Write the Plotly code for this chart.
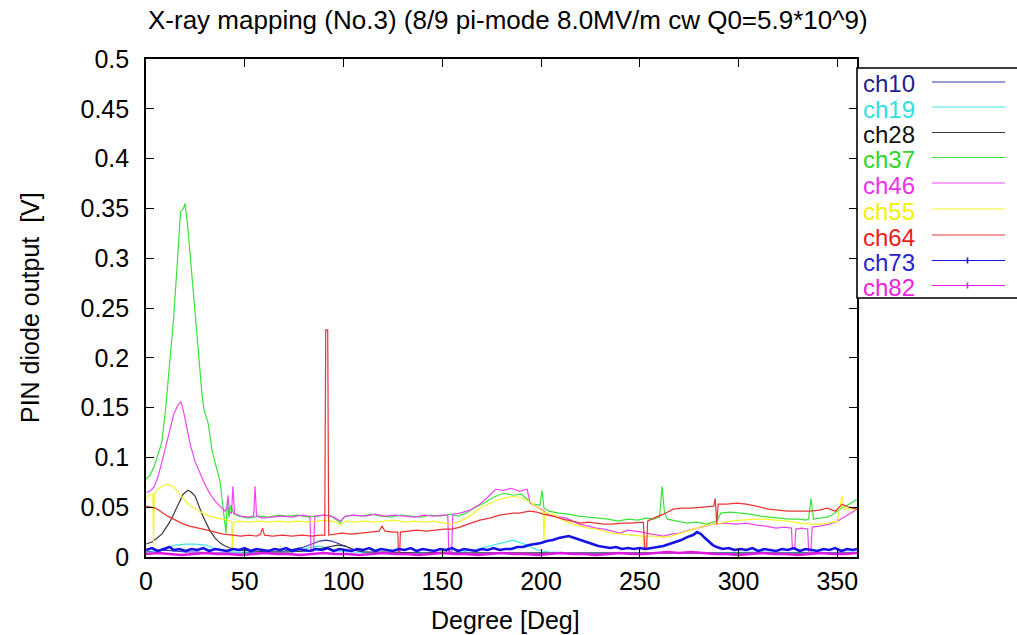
import plotly.graph_objects as go

# ---------------- data (degree, volts) ----------------
ch10 = [(0,0.005),(5,0.006),(10,0.007),(14,0.006),(20,0.005),(26,0.005),(32,0.004),(40,0.004),(48,0.004),(56,0.005),(64,0.005),(70,0.006),(76,0.008),(80,0.010),(84,0.013),(88,0.016),(91,0.017),(94,0.016),(98,0.013),(102,0.010),(106,0.007),(110,0.005),(118,0.004),(130,0.004),(145,0.004),(160,0.004),(175,0.004),(190,0.004),(205,0.004),(220,0.004),(240,0.004),(260,0.004),(280,0.004),(300,0.004),(320,0.004),(340,0.004),(360,0.004)]

ch19 = [(0,0.004),(5,0.006),(10,0.009),(15,0.012),(20,0.013),(25,0.013),(30,0.012),(34,0.009),(38,0.007),(44,0.005),(55,0.005),(70,0.005),(78,0.007),(84,0.010),(88,0.011),(92,0.009),(97,0.006),(104,0.005),(120,0.004),(140,0.004),(160,0.005),(168,0.008),(174,0.011),(180,0.014),(186,0.017),(190,0.014),(194,0.011),(198,0.007),(204,0.005),(220,0.004),(250,0.004),(280,0.004),(310,0.005),(340,0.004),(360,0.005)]

ch28 = [(0,0.013),(3,0.015),(5,0.018),(8,0.023),(10,0.029),(12,0.035),(14,0.043),(15.5,0.049),(17,0.056),(18.8,0.063),(21.3,0.067),(23,0.065),(24.9,0.061),(26.5,0.052),(28.4,0.043),(30.5,0.034),(32.5,0.026),(35,0.019),(37.6,0.014),(40,0.011),(42.7,0.009),(48,0.007),(54,0.006),(62,0.005),(72,0.005),(82,0.006),(87,0.008),(92,0.010),(97,0.012),(101,0.011),(105,0.007),(110,0.005),(122,0.005),(140,0.004),(152,0.005),(153,0.009),(154,0.004),(172,0.004),(200,0.004),(250,0.004),(300,0.004),(330,0.004),(360,0.004)]

ch37 = [(0,0.078),(2,0.082),(4,0.090),(6,0.103),(8,0.115),(10,0.150),(12,0.195),(14,0.240),(16,0.300),(17.5,0.347),(19,0.350),(19.7,0.355),(21,0.335),(22.5,0.300),(23.5,0.284),(26,0.224),(28.5,0.160),(29.5,0.147),(31.5,0.134),(33.5,0.106),(35,0.095),(37.5,0.076),(39,0.050),(40.5,0.024),(41.2,0.056),(42,0.040),(43,0.052),(44.5,0.043),(47,0.041),(52,0.039),(57,0.041),(62,0.040),(67,0.042),(72,0.041),(77,0.042),(82,0.040),(87,0.041),(90,0.042),(94,0.041),(98.5,0.034),(100,0.040),(104,0.042),(109,0.041),(114,0.043),(119,0.041),(124,0.040),(129,0.042),(134,0.041),(139,0.040),(144,0.042),(149,0.041),(154,0.043),(158,0.041),(162,0.044),(166,0.049),(171,0.054),(176,0.060),(181,0.064),(186,0.062),(190,0.063),(193,0.058),(196,0.053),(199.5,0.052),(200.5,0.067),(201.5,0.049),(204,0.046),(209,0.044),(214,0.043),(219,0.041),(224,0.040),(229,0.039),(234,0.038),(239,0.036),(244,0.038),(249,0.037),(253,0.039),(257,0.038),(260,0.040),(261.3,0.071),(262.5,0.045),(264,0.038),(269,0.036),(274,0.034),(279,0.035),(284,0.033),(287,0.035),(289,0.036),(291,0.044),(296,0.045),(301,0.044),(306,0.043),(311,0.041),(316,0.040),(321,0.039),(326,0.038),(331,0.038),(334,0.037),(335.5,0.038),(336.7,0.059),(338,0.038),(341,0.039),(345,0.040),(348,0.043),(352,0.049),(356,0.053),(360,0.058)]

ch46 = [(0,0.065),(2,0.066),(4,0.070),(6,0.080),(8,0.095),(10,0.112),(12,0.128),(14,0.143),(16,0.152),(17.7,0.156),(19,0.146),(21,0.125),(22.5,0.112),(25,0.095),(27.5,0.083),(30,0.072),(32.5,0.063),(35,0.056),(37.5,0.051),(40,0.046),(41,0.050),(41.5,0.062),(42.3,0.045),(43.3,0.044),(44,0.071),(44.8,0.044),(48,0.041),(52,0.040),(54.5,0.041),(55.2,0.071),(56,0.041),(59,0.039),(64,0.040),(69,0.041),(74,0.040),(79,0.042),(83,0.041),(83.6,0.006),(84.8,0.006),(85.5,0.041),(90,0.042),(94,0.041),(98.5,0.036),(101,0.041),(106,0.042),(111,0.041),(116,0.043),(121,0.041),(126,0.042),(131,0.041),(136,0.040),(141,0.042),(146,0.041),(150,0.042),(152.8,0.042),(153.3,0.005),(154.8,0.005),(155.3,0.043),(159,0.044),(164,0.047),(169,0.053),(173,0.060),(177,0.068),(181,0.067),(185,0.069),(189,0.066),(193,0.068),(194.5,0.054),(198,0.050),(201,0.047),(204,0.042),(209,0.040),(213,0.039),(216,0.036),(219.5,0.033),(224,0.031),(228,0.029),(232,0.028),(236,0.026),(240,0.024),(244,0.027),(248.5,0.026),(251,0.025),(256,0.023),(262,0.021),(266,0.023),(270,0.024),(275,0.027),(281,0.030),(287,0.033),(293,0.034),(299,0.033),(304,0.034),(309,0.032),(314,0.031),(319,0.029),(323,0.030),(326.8,0.029),(327.3,0.008),(328.5,0.008),(329,0.028),(332,0.029),(335,0.028),(335.6,0.004),(336.6,0.004),(337.3,0.030),(341,0.031),(346,0.033),(350,0.036),(355,0.042),(360,0.048)]

ch55 = [(0,0.058),(1.5,0.062),(3.5,0.063),(3.8,0.012),(4.2,0.063),(6,0.068),(8,0.071),(10.6,0.073),(13.5,0.071),(16,0.066),(18.7,0.059),(22,0.052),(27,0.046),(32,0.041),(36,0.039),(39,0.038),(42.5,0.036),(43.4,0.035),(43.8,0.006),(44.3,0.035),(47,0.036),(52,0.035),(57,0.036),(62,0.035),(67,0.036),(72,0.035),(77,0.036),(82,0.035),(87,0.036),(92,0.037),(96,0.035),(98.5,0.032),(101,0.036),(106,0.035),(111,0.036),(116,0.035),(121,0.036),(126,0.037),(131,0.035),(136,0.036),(141,0.035),(146,0.036),(151,0.034),(155,0.033),(159,0.036),(164,0.041),(169,0.049),(174,0.054),(179,0.058),(186,0.061),(189,0.060),(194,0.056),(198,0.050),(201,0.046),(201.5,0.016),(202,0.045),(205,0.043),(209,0.040),(212,0.036),(216,0.033),(220,0.031),(224,0.029),(228,0.028),(232,0.026),(236,0.024),(241,0.023),(246,0.022),(251.5,0.021),(252.2,0.005),(253,0.021),(257,0.021),(262,0.020),(266,0.021),(271,0.024),(276,0.027),(282,0.031),(287,0.033),(291,0.034),(296,0.036),(301,0.037),(307,0.038),(313,0.038),(319,0.037),(325,0.036),(331,0.034),(336,0.033),(341,0.033),(345.5,0.034),(350,0.036),(352.4,0.061),(353.5,0.048),(356.5,0.049),(360,0.047)]

ch64 = [(0,0.051),(2,0.050),(5,0.049),(8,0.045),(11,0.041),(14,0.038),(18,0.034),(22,0.031),(27,0.029),(31,0.027),(35,0.025),(39,0.023),(44,0.022),(48,0.021),(52,0.022),(56,0.021),(58,0.023),(59,0.029),(60,0.022),(64,0.021),(69,0.022),(74,0.021),(79,0.022),(84,0.021),(88,0.022),(90.5,0.022),(91,0.228),(92,0.228),(92.5,0.022),(95,0.023),(99,0.024),(104,0.023),(109,0.024),(114,0.025),(118,0.026),(119.5,0.031),(121,0.026),(125,0.025),(127.5,0.025),(127.8,0.005),(128.5,0.005),(128.8,0.025),(132,0.026),(137,0.027),(142,0.026),(147,0.027),(151,0.028),(155,0.028),(159,0.030),(163,0.033),(169,0.037),(174,0.039),(179,0.042),(186,0.044),(189,0.044),(194,0.046),(198,0.045),(201,0.043),(206,0.041),(211,0.038),(215,0.036),(220,0.034),(224,0.035),(228,0.034),(232,0.033),(236,0.033),(241,0.034),(245,0.034),(249,0.035),(251.8,0.035),(252.5,0.010),(253.5,0.010),(254,0.036),(257,0.039),(262,0.043),(267,0.048),(271,0.049),(276,0.049),(282,0.050),(287.5,0.051),(288.2,0.059),(289,0.033),(289.7,0.053),(294,0.053),(299,0.054),(304,0.053),(309,0.051),(315,0.048),(320,0.047),(325,0.046),(330,0.046),(336,0.046),(341,0.047),(345,0.049),(349,0.046),(352.5,0.053),(356,0.050),(360,0.048)]

ch73 = [(0,0.007),(3,0.009),(6,0.006),(9,0.008),(12,0.010),(14,0.007),(17,0.008),(20,0.006),(23,0.008),(26,0.007),(29,0.009),(32,0.006),(35,0.008),(38,0.007),(41,0.006),(44,0.008),(47,0.007),(50,0.009),(53,0.006),(56,0.008),(59,0.007),(62,0.006),(65,0.008),(68,0.007),(71,0.009),(74,0.006),(77,0.008),(80,0.007),(83,0.006),(86,0.008),(89,0.007),(92,0.009),(95,0.006),(98,0.008),(101,0.007),(104,0.006),(107,0.008),(110,0.007),(113,0.009),(116,0.006),(119,0.008),(122,0.007),(125,0.006),(128,0.008),(131,0.007),(134,0.009),(137,0.006),(140,0.008),(143,0.007),(146,0.006),(149,0.008),(152,0.007),(155,0.009),(158,0.006),(161,0.008),(164,0.007),(167,0.006),(170,0.008),(173,0.007),(176,0.009),(179,0.007),(182,0.008),(185,0.008),(188,0.010),(191,0.010),(194,0.012),(197,0.013),(200,0.014),(203,0.016),(206,0.017),(209,0.019),(212,0.020),(214,0.021),(217,0.019),(220,0.017),(223,0.015),(226,0.013),(229,0.011),(232,0.010),(235,0.009),(238,0.010),(241,0.008),(244,0.009),(247,0.008),(250,0.009),(253,0.008),(256,0.009),(259,0.010),(262,0.011),(265,0.013),(268,0.015),(271,0.017),(274,0.020),(277,0.022),(279,0.025),(281,0.023),(283,0.019),(285,0.015),(287,0.012),(289,0.010),(292,0.008),(295,0.009),(298,0.007),(301,0.008),(304,0.007),(307,0.009),(310,0.006),(313,0.008),(316,0.007),(319,0.006),(322,0.008),(325,0.007),(328,0.009),(331,0.006),(334,0.008),(337,0.007),(340,0.006),(343,0.008),(346,0.007),(349,0.009),(352,0.006),(355,0.008),(358,0.007),(360,0.008)]

ch82 = [(0,0.003),(6,0.004),(12,0.003),(18,0.002),(24,0.003),(30,0.004),(36,0.003),(42,0.003),(48,0.002),(54,0.003),(60,0.004),(66,0.003),(72,0.003),(78,0.002),(84,0.003),(90,0.004),(96,0.003),(102,0.003),(108,0.002),(114,0.003),(120,0.004),(126,0.003),(132,0.003),(138,0.002),(144,0.003),(150,0.004),(156,0.003),(162,0.003),(168,0.002),(174,0.003),(180,0.004),(186,0.003),(192,0.003),(198,0.002),(204,0.003),(210,0.004),(216,0.003),(222,0.003),(228,0.002),(234,0.003),(240,0.004),(246,0.003),(252,0.003),(258,0.004),(264,0.005),(270,0.004),(276,0.005),(282,0.004),(288,0.003),(294,0.003),(300,0.002),(306,0.003),(312,0.004),(318,0.003),(324,0.003),(330,0.002),(336,0.003),(342,0.004),(348,0.003),(354,0.003),(360,0.004)]

series_names = ["ch10", "ch19", "ch28", "ch37", "ch46", "ch55", "ch64", "ch73", "ch82"]
series_data = [ch10, ch19, ch28, ch37, ch46, ch55, ch64, ch73, ch82]

x_tickvals = [0, 50, 100, 150, 200, 250, 300, 350]
y_tickvals = [0, 0.05, 0.1, 0.15, 0.2, 0.25, 0.3, 0.35, 0.4, 0.45, 0.5]
y_ticktext = ["0", "0.05", "0.1", "0.15", "0.2", "0.25", "0.3", "0.35", "0.4", "0.45", "0.5"]

# ---------------- styles ----------------
line_colors = ["#3434a8", "#3ae6e6", "#3a3a3a", "#3ae43a", "#f044f0", "#f4f42a", "#ea3434", "#1414e6", "#e018e0"]
text_colors = ["#22228c", "#30e0e0", "#111111", "#2cd82c", "#ee30ee", "#f4f000", "#ee1c1c", "#2424cc", "#ee22dd"]
line_widths = [1.2, 1.2, 1.2, 1.2, 1.2, 1.2, 1.2, 2.6, 2.6]
FONT = "Liberation Sans, Arial, sans-serif"
FS = 25

W, H = 1017, 635
L, R, T, B = 146, 857, 59, 557


def px_x(px):
    return (px - L) / (R - L)


def px_y(py):
    return (B - py) / (B - T)


fig = go.Figure()
for name, data, col, lw in zip(series_names, series_data, line_colors, line_widths):
    fig.add_trace(go.Scatter(
        x=[p[0] for p in data], y=[p[1] for p in data], mode="lines", name=name,
        line=dict(color=col, width=lw), showlegend=False))

axis_common = dict(showline=True, linecolor="black", linewidth=1.6, mirror="allticks",
                   ticks="inside", ticklen=8, tickwidth=1.4, tickcolor="black",
                   showgrid=False, zeroline=False,
                   tickfont=dict(family=FONT, size=FS, color="black"))

fig.update_layout(
    width=W, height=H,
    margin=dict(l=L, r=W - R, t=T, b=H - B, autoexpand=False),
    paper_bgcolor="white", plot_bgcolor="white",
    xaxis=dict(range=[0, 360], tickvals=x_tickvals, ticklabelstandoff=1, **axis_common),
    yaxis=dict(range=[0, 0.5], tickvals=y_tickvals, ticktext=y_ticktext, ticklabelstandoff=10, **axis_common),
    font=dict(family=FONT, size=FS, color="black"),
)

annotations = [
    dict(text="X-ray mapping (No.3) (8/9 pi-mode 8.0MV/m cw Q0=5.9*10^9)", x=px_x(508), y=px_y(20),
         xref="paper", yref="paper", xanchor="center", yanchor="middle", showarrow=False,
         font=dict(family=FONT, size=26, color="black")),
    dict(text="Degree [Deg]", x=px_x(505), y=px_y(620), xref="paper", yref="paper",
         xanchor="center", yanchor="middle", showarrow=False, font=dict(family=FONT, size=FS)),
    dict(text="PIN diode output\u00a0\u00a0[V]", x=px_x(30), y=px_y(308), xref="paper", yref="paper",
         xanchor="center", yanchor="middle", textangle=-90, showarrow=False, font=dict(family=FONT, size=FS)),
]

shapes = [dict(type="rect", xref="paper", yref="paper", x0=px_x(R), x1=px_x(1030), y0=px_y(298), y1=px_y(68),
               line=dict(color="black", width=1.6), fillcolor="white", layer="above")]

entry_y = [83.5, 108.5, 134, 159, 184.5, 210.5, 236.5, 262, 287]
for i, name in enumerate(series_names):
    yy = entry_y[i]
    annotations.append(dict(text=name, x=px_x(861), y=px_y(yy), xref="paper", yref="paper",
                            xanchor="left", yanchor="middle", showarrow=False, height=24,
                            font=dict(family=FONT, size=24, color=text_colors[i])))
    shapes.append(dict(type="line", xref="paper", yref="paper", x0=px_x(932), x1=px_x(1005),
                       y0=px_y(yy - 1.5), y1=px_y(yy - 1.5),
                       line=dict(color=line_colors[i], width=1.2), layer="above"))
    if name in ("ch73", "ch82"):
        shapes.append(dict(type="line", xref="paper", yref="paper", x0=px_x(967.5), x1=px_x(967.5),
                           y0=px_y(yy - 4.5), y1=px_y(yy + 1.5),
                           line=dict(color=line_colors[i], width=1.6), layer="above"))

fig.update_layout(annotations=annotations, shapes=shapes)
fig.write_html("out.html")
